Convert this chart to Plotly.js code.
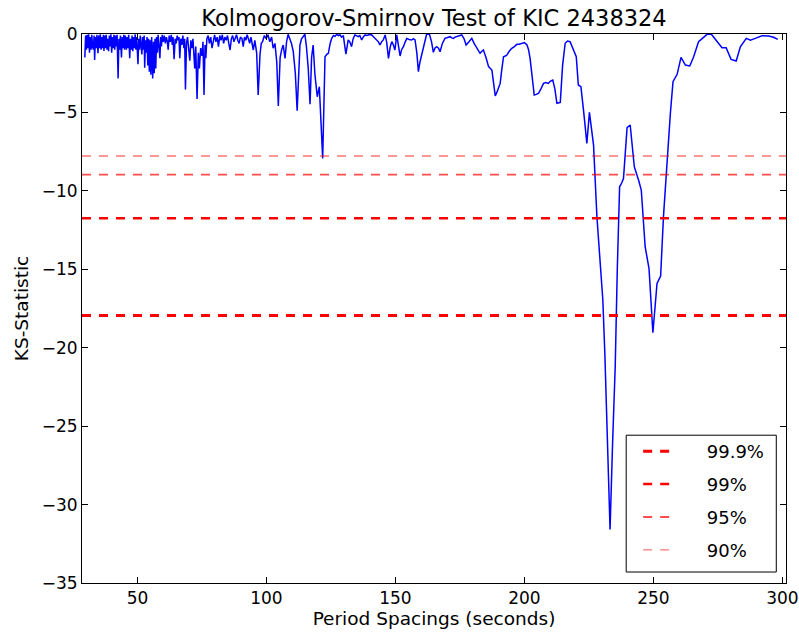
<!DOCTYPE html>
<html>
<head>
<meta charset="utf-8">
<script src="https://cdn.plot.ly/plotly-3.0.1.min.js"></script>
<style>
  html, body { margin: 0; padding: 0; background: #fff; }
  #chart { width: 799px; height: 634px; }
</style>
</head>
<body>
<div id="chart"></div>
<script>
// Period spacing grid (seconds)
const spacing = [
  29.6, 29.9, 30.2, 30.5, 30.8, 31.1, 31.4, 31.7, 32.0, 32.3, 32.6, 32.9, 33.2, 33.4, 33.7, 34.0, 34.3, 34.7, 35.0, 35.3,
  35.6, 35.9, 36.2, 36.5, 36.8, 37.0, 37.3, 37.6, 37.9, 38.2, 38.5, 38.8, 39.1, 39.4, 39.7, 40.0, 40.3, 40.6, 40.9, 41.2,
  41.5, 41.8, 42.1, 42.5, 42.8, 43.1, 43.4, 43.8, 44.1, 44.4, 44.7, 45.0, 45.3, 45.7, 46.0, 46.3, 46.6, 47.0, 47.3, 47.6,
  47.9, 48.2, 48.5, 48.8, 49.1, 49.4, 49.7, 50.0, 50.2, 50.5, 50.8, 51.1, 51.4, 51.7, 52.0, 52.3, 52.6, 52.8, 53.1, 53.4,
  53.7, 54.0, 54.3, 54.6, 54.9, 55.2, 55.5, 55.9, 56.2, 56.5, 56.8, 57.1, 57.4, 57.7, 58.0, 58.3, 58.7, 59.0, 59.3, 59.6,
  60.0, 60.4, 60.8, 61.2, 61.5, 61.9, 62.3, 62.7, 63.1, 63.5, 63.8, 64.2, 64.6, 65.0, 65.4, 65.8, 66.1, 66.4, 66.8, 67.2,
  67.6, 68.0, 68.3, 68.6, 69.0, 69.4, 69.8, 70.3, 70.7, 71.1, 71.5, 71.8, 72.2, 72.6, 73.1, 73.6, 74.0, 74.5, 75.0, 75.4,
  75.8, 76.2, 76.5, 76.9, 77.4, 77.9, 78.4, 78.9, 79.4, 79.9, 80.4, 80.9, 81.4, 81.9, 82.4, 82.9, 83.4, 83.9, 84.4, 84.9,
  85.4, 85.9, 86.4, 86.9, 87.4, 87.9, 88.4, 88.9, 89.4, 89.9, 90.5, 91.0, 91.5, 92.0, 92.5, 93.0, 93.5, 94.0, 94.9, 95.5,
  96.2, 96.8, 97.5, 98.0, 98.5, 99.2, 99.9, 100.6, 101.3, 102.0, 102.6, 103.3, 104.0, 104.6, 105.3, 105.9, 106.5, 107.2, 107.8, 108.4,
  109.0, 109.7, 110.4, 111.2, 111.9, 112.5, 113.0, 113.6, 114.2, 114.9, 115.5, 116.2, 116.9, 117.5, 118.1, 118.8, 119.7, 120.5, 121.8, 122.7,
  123.4, 124.0, 124.7, 125.3, 126.0, 126.6, 127.2, 127.9, 128.5, 129.1, 129.8, 130.8, 131.7, 132.3, 133.0, 133.6, 134.3, 135.0, 135.6, 136.2,
  136.9, 137.5, 138.2, 139.0, 139.9, 140.8, 141.7, 142.7, 143.4, 144.0, 144.6, 145.3, 146.0, 146.6, 147.3, 148.0, 148.6, 149.2, 149.8, 150.5,
  151.1, 151.8, 152.4, 153.1, 153.8, 154.4, 155.3, 156.3, 156.9, 157.6, 158.3, 158.9, 159.5, 160.2, 161.2, 162.1, 163.2, 164.0, 164.7, 165.3,
  166.0, 166.7, 167.3, 168.2, 169.2, 170.2, 171.2, 171.8, 172.5, 173.1, 173.8, 174.8, 175.7, 176.6, 177.4, 178.5, 179.6, 180.5, 181.5, 182.1,
  182.8, 183.5, 184.1, 185.1, 186.1, 186.8, 187.4, 188.1, 188.7, 189.6, 190.6, 191.2, 191.9, 192.6, 193.2, 194.1, 195.1, 196.1, 197.1, 198.0,
  199.0, 200.0, 201.0, 201.6, 202.2, 203.0, 203.8, 204.6, 205.5, 206.4, 207.4, 208.3, 209.3, 210.1, 211.0, 211.8, 212.6, 213.9, 214.8, 215.8,
  216.7, 217.7, 218.8, 219.6, 220.1, 220.9, 221.9, 223.0, 224.2, 225.2, 226.0, 226.8, 228.1, 229.2, 230.4, 231.2, 232.0, 233.2, 234.2, 235.2,
  236.0, 236.9, 237.7, 238.4, 239.8, 241.0, 242.6, 243.5, 244.4, 245.3, 246.8, 248.3, 249.8, 251.4, 252.8, 253.9, 255.5, 256.6, 257.6, 259.2,
  260.7, 262.4, 264.1, 265.6, 267.5, 269.1, 270.8, 272.4, 274.7, 276.6, 278.2, 280.1, 282.1, 283.7, 286.0, 287.6, 289.5, 292.1, 294.7, 296.6,
  298.2
];

// KS statistic at each spacing
const ksStat = [
  -1.49, -0.1, -1.0, -0.05, -0.9, -0.02, -1.2, -0.2, -1.0, -0.05, -0.8, -1.0, -0.1, -1.66, -0.2, -0.9, -0.05, -1.23, -0.1, -0.9,
  -0.02, -1.0, -0.2, -0.9, -0.05, -1.08, -0.1, -0.9, -0.05, -1.0, -0.3, -1.1, -0.1, -0.8, -0.02, -1.2, -0.2, -0.9, -0.05, -1.0,
  -0.1, -0.8, -0.05, -2.83, -0.3, -1.0, -0.1, -1.49, -0.2, -0.9, -0.05, -1.0, -0.1, -1.0, -0.2, -0.9, -0.05, -1.55, -0.3, -1.0,
  -0.1, -1.1, -0.2, -0.9, -0.02, -1.0, -0.2, -0.9, -1.93, -0.3, -1.0, -0.1, -0.9, -1.3, -0.2, -1.0, -0.1, -2.15, -0.4, -1.2,
  -0.2, -2.0, -0.3, -2.4, -0.4, -2.6, -0.2, -2.83, -0.5, -2.5, -0.3, -2.2, -0.2, -1.2, -0.05, -0.9, -1.55, -0.2, -0.8, -0.05,
  -0.5, -0.1, -0.6, -0.2, -0.4, -1.0, -0.1, -0.5, -0.05, -0.7, -0.2, -1.6, -0.3, -0.6, -0.1, -0.4, -0.2, -1.55, -0.3, -0.7,
  -0.1, -0.9, -0.3, -3.53, -0.6, -0.2, -0.8, -1.7, -0.4, -0.9, -0.3, -1.1, -2.19, -0.8, -4.15, -1.2, -2.19, -0.9, -1.4, -0.5,
  -3.89, -0.7, -1.55, -0.3, -0.1, -0.6, -0.2, -0.9, -0.3, -0.05, -0.5, -0.2, -0.8, -0.1, -0.4, -0.05, -0.6, -0.2, -0.4, -0.1,
  -0.6, -1.02, -0.3, -0.1, -0.5, -0.2, -0.05, -0.4, -0.6, -0.2, -0.3, -0.81, -0.2, -0.4, -0.05, -0.3, -0.6, -0.2, -1.02, -0.4,
  -1.2, -3.89, -1.3, -0.6, -0.49, -0.1, -0.3, -0.05, -0.5, -0.2, -0.91, -0.6, -1.8, -4.59, -1.5, -1.0, -0.7, -1.55, -0.5, -0.02,
  -0.3, -0.6, -1.13, -2.5, -4.89, -1.8, -0.7, -0.3, -0.2, -0.02, -0.8, -2.2, -4.47, -1.5, -0.7, -2.6, -4.0, -3.36, -7.93, -1.45,
  -1.3, -1.23, -0.6, -0.28, -0.1, -0.15, -0.02, -0.1, -0.05, -0.2, -0.1, -1.28, -0.38, -0.5, -0.81, -0.3, -0.06, -0.1, -0.17, -0.1,
  -0.38, -0.2, -0.06, -0.1, -0.03, -0.06, -0.2, -0.38, -0.5, -0.70, -0.5, -0.38, -0.06, -0.5, -1.55, -0.8, -0.49, -0.7, -1.02, -0.06,
  -0.6, -1.40, -1.0, -0.81, -0.5, -0.28, -0.35, -0.38, -0.3, -0.38, -1.2, -2.40, -1.8, -1.34, -0.6, 0.0, -0.02, -0.5, -1.17, -0.9,
  -0.81, -0.9, -1.13, -0.6, -0.28, -0.2, -0.17, -0.25, -0.28, -0.2, -0.17, -0.1, -0.06, -0.3, -0.70, -0.5, -0.28, -0.6, -0.91, -1.1,
  -1.23, -1.1, -1.02, -1.5, -2.08, -2.2, -2.3, -3.2, -3.95, -3.6, -3.15, -2.3, -1.45, -1.4, -1.34, -1.1, -0.91, -0.8, -0.66, -0.65,
  -0.60, -0.55, -0.70, -1.0, -1.55, -2.8, -3.89, -3.85, -3.78, -3.5, -3.15, -3.1, -3.15, -3.0, -2.93, -3.5, -4.42, -4.36, -2.0, -0.59,
  -0.45, -0.49, -0.9, -1.3, -1.45, -3.25, -3.36, -5.0, -6.97, -5.0, -6.0, -7.08, -11.65, -14.0, -16.96, -20.5, -24.4, -31.59, -26.0, -21.2,
  -15.0, -9.74, -9.5, -9.21, -5.97, -5.80, -8.46, -8.89, -9.4, -9.95, -13.56, -14.95, -19.05, -15.9, -15.43, -11.65, -7.4, -5.0, -3.04, -2.57,
  -1.49, -1.98, -2.04, -1.45, -0.49, -0.25, -0.02, 0.0, -0.49, -0.87, -0.87, -1.62, -1.72, -0.81, -0.28, -0.39, -0.28, -0.11, -0.13, -0.21,
  -0.34
];

// Significance levels and their KS thresholds
const levels = ['99.9%', '99%', '95%', '90%'];
const thresholds = [-17.95, -11.75, -8.97, -7.78];

// Axis extents
const xLimits = [28.5, 301.4];
const yLimits = [-35, 0];

const levelColors = ['rgb(255,0,0)', 'rgb(255,0,0)', 'rgba(255,0,0,0.7)', 'rgba(255,0,0,0.55)'];
const levelWidths = [3, 2.5, 1.8, 1.4];

const pad = '\u00a0\u00a0\u00a0\u00a0\u00a0';
const FONT = 'DejaVu Sans';

const traces = [{
  type: 'scatter',
  mode: 'lines',
  x: spacing,
  y: ksStat,
  line: { color: 'rgb(0,0,255)', width: 1.5 },
  showlegend: false,
  hoverinfo: 'x+y'
}];

levels.forEach((lvl, i) => {
  traces.push({
    type: 'scatter',
    mode: 'lines',
    x: xLimits,
    y: [thresholds[i], thresholds[i]],
    name: pad + lvl,
    legendgroup: 'g' + i,
    line: { color: levelColors[i], width: levelWidths[i], dash: '9px,8px' }
  });
});

const axisCommon = {
  showgrid: false,
  zeroline: false,
  showline: true,
  linecolor: '#000',
  linewidth: 1,
  mirror: 'ticks',
  ticks: 'inside',
  ticklen: 6,
  tickwidth: 1,
  tickcolor: '#000',
  tickfont: { family: FONT, size: 17, color: '#000' }
};

const layout = {
  width: 799,
  height: 634,
  paper_bgcolor: '#fff',
  plot_bgcolor: '#fff',
  margin: { l: 82, r: 13, t: 34, b: 51 },
  title: {
    text: 'Kolmogorov-Smirnov Test of KIC 2438324',
    font: { family: FONT, size: 22.5, color: '#000' },
    x: 0.5, xref: 'paper', xanchor: 'center',
    y: 1 - 18 / 634, yref: 'container', yanchor: 'middle'
  },
  xaxis: Object.assign({}, axisCommon, {
    range: xLimits,
    tick0: 0, dtick: 50,
    title: { text: 'Period Spacings (seconds)', font: { family: FONT, size: 18.5, color: '#000' }, standoff: 4 }
  }),
  yaxis: Object.assign({}, axisCommon, {
    range: yLimits,
    tick0: 0, dtick: 5,
    title: { text: 'KS-Statistic', font: { family: FONT, size: 18.5, color: '#000' }, standoff: 8 }
  }),
  // legend frame
  shapes: [{
    type: 'rect', xref: 'paper', yref: 'paper', layer: 'above',
    x0: 0.773, x1: 0.9862, y0: 0.020, y1: 0.2692,
    line: { color: '#000', width: 1 },
    fillcolor: '#fff'
  }],
  legend: {
    x: 0.790, xanchor: 'left',
    y: 0.0255, yanchor: 'bottom',
    bgcolor: 'rgba(0,0,0,0)',
    borderwidth: 0,
    font: { family: FONT, size: 18, color: '#000' },
    tracegroupgap: 6.5,
    itemwidth: 30
  },
  showlegend: true
};

Plotly.newPlot('chart', traces, layout, { displayModeBar: false, staticPlot: true });
</script>
</body>
</html>
